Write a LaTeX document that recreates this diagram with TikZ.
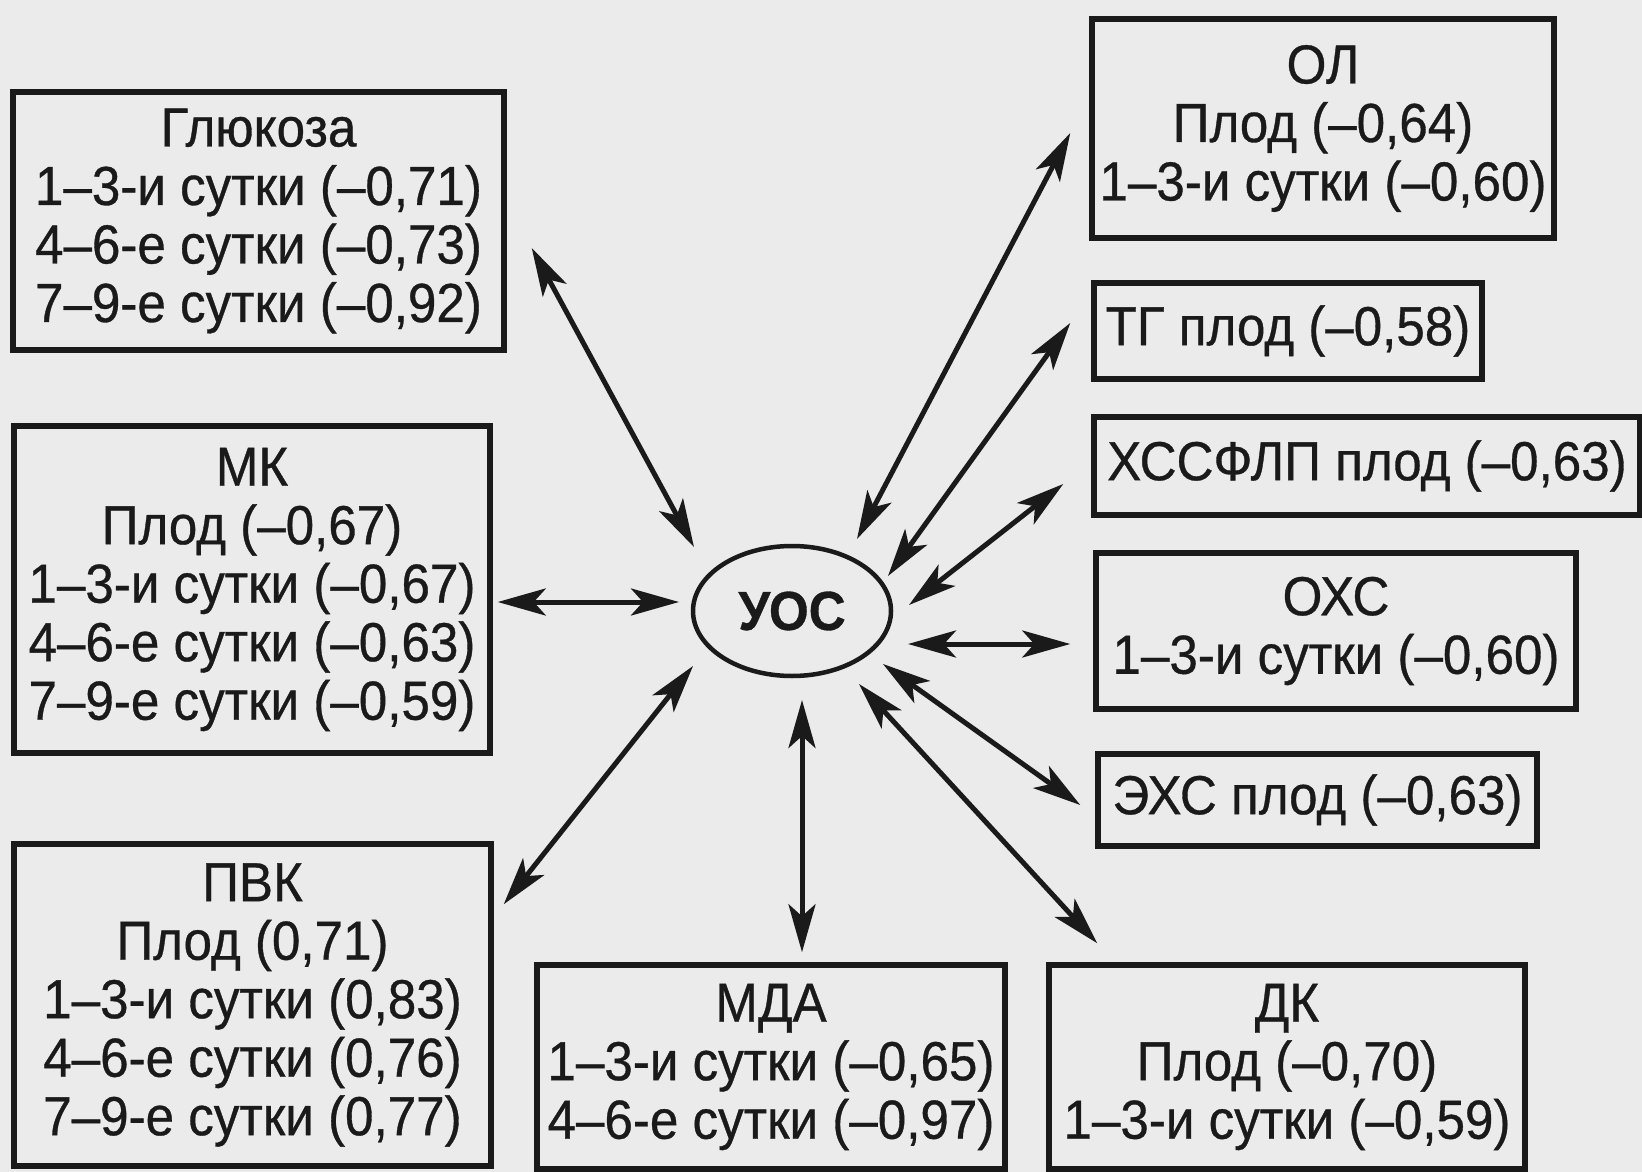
\documentclass[tikz,border=0pt]{standalone}
\usepackage{fontspec}
\setmainfont{Liberation Sans}[FakeStretch=0.93,FakeBold=0.6]
\usetikzlibrary{arrows.meta,shapes.geometric}
\definecolor{bg}{RGB}{234,235,234}
\definecolor{ink}{RGB}{26,26,26}
\begin{document}
\begin{tikzpicture}[x=1pt,y=-1pt,
  box/.style={draw=ink, line width=5.5pt, inner sep=0pt, align=center, text=ink,
    font=\fontsize{55pt}{58.5pt}\selectfont},
  tipx/.tip={Stealth[length=48pt,width=27pt,inset=12pt]},
  dbl/.style={draw=ink, line width=5pt, tipx-tipx}]
\fill[bg] (0,0) rectangle (1642,1172);
\useasboundingbox (0,0) rectangle (1642,1172);

% left column
\node[box, minimum width=491pt, minimum height=258pt] (gl) at (258.5,221)
  {Глюкоза\\1–3-и сутки (–0,71)\\4–6-е сутки (–0,73)\\7–9-е сутки (–0,92)};
\node[box, minimum width=476pt, minimum height=327pt] (mk) at (252,589.5)
  {МК\\Плод (–0,67)\\1–3-и сутки (–0,67)\\4–6-е сутки (–0,63)\\7–9-е сутки (–0,59)};
\node[box, minimum width=477pt, minimum height=322pt] (pvk) at (252.5,1005)
  {ПВК\\Плод (0,71)\\1–3-и сутки (0,83)\\4–6-е сутки (0,76)\\7–9-е сутки (0,77)};

% bottom
\node[box, minimum width=468pt, minimum height=204pt] (mda) at (771,1067)
  {МДА\\1–3-и сутки (–0,65)\\4–6-е сутки (–0,97)};
\node[box, minimum width=476pt, minimum height=204pt] (dk) at (1287,1067)
  {ДК\\Плод (–0,70)\\1–3-и сутки (–0,59)};

% right column
\node[box, minimum width=462pt, minimum height=219pt] (ol) at (1323,128.5)
  {ОЛ\\Плод (–0,64)\\1–3-и сутки (–0,60)};
\node[box, minimum width=388pt, minimum height=96pt] (tg) at (1288,331)
  {ТГ плод (–0,58)};
\node[box, minimum width=546pt, minimum height=98pt] (hss) at (1367,466)
  {ХССФЛП плод (–0,63)};
\node[box, minimum width=480pt, minimum height=156pt] (ohs) at (1336,631)
  {ОХС\\1–3-и сутки (–0,60)};
\node[box, minimum width=439pt, minimum height=92pt] (ehs) at (1317.5,800)
  {ЭХС плод (–0,63)};

% centre
\node[draw=ink, line width=4.5pt, ellipse, minimum width=198pt, minimum height=130pt,
  inner sep=0pt, text=ink, font=\fontsize{55pt}{58pt}\selectfont\bfseries] (uos) at (792,611) {УОС};

% connectors
\draw[dbl] ([shift={(-98,-64)}]uos.center) -- ([shift={(25,27)}]gl.east);
\draw[dbl] ([shift={(-113,-9)}]uos.center) -- ([shift={(5,12.5)}]mk.east);
\draw[dbl] ([shift={(-99,55)}]uos.center) -- ([shift={(10,63)}]pvk.north east);
\draw[dbl] ([shift={(10,89)}]uos.center) -- ([shift={(31,-10)}]mda.north);
\draw[dbl] ([shift={(67,73)}]uos.center) -- ([shift={(51,-19)}]dk.north west);
\draw[dbl] ([shift={(91,53)}]uos.center) -- ([shift={(-15,5)}]ehs.west);
\draw[dbl] ([shift={(116,33)}]uos.center) -- ([shift={(-23,13)}]ohs.west);
\draw[dbl] ([shift={(117,-6)}]uos.center) -- ([shift={(-28,18)}]hss.west);
\draw[dbl] ([shift={(96,-35)}]uos.center) -- ([shift={(-21,-8)}]tg.west);
\draw[dbl] ([shift={(65,-72)}]uos.center) -- ([shift={(-19,4.5)}]ol.west);
\end{tikzpicture}
\end{document}
